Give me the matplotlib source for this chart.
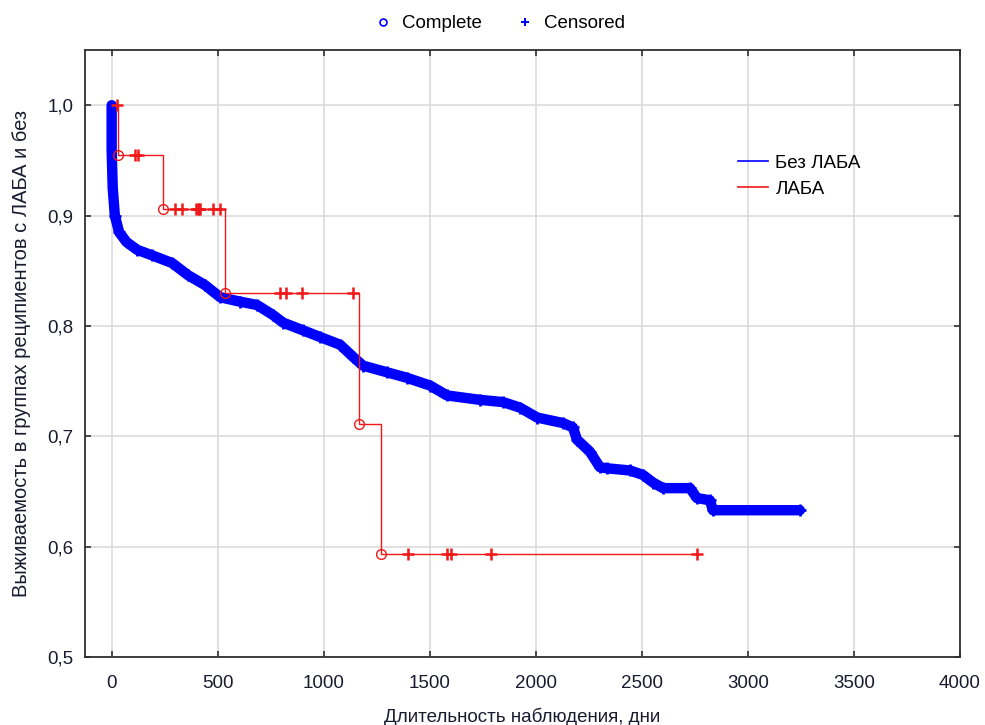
import numpy as np
import matplotlib
matplotlib.use('Agg')
import matplotlib.pyplot as plt
from matplotlib.lines import Line2D
from matplotlib.ticker import FuncFormatter

plt.rcParams['font.family'] = ['Liberation Sans', 'DejaVu Sans']

# Без ЛАБА (blue) - survival
blue_t = [0, 0, 5, 15, 35, 70, 120, 190, 285, 360, 440, 512, 605, 685, 760, 808,
          902, 982, 1077, 1138, 1185, 1298, 1392, 1501, 1581, 1737, 1845, 1925,
          2006, 2128, 2175, 2194, 2255, 2302, 2335, 2444, 2505, 2553, 2600, 2727,
          2760, 2821, 2835, 3245]
blue_s = [1.0, 0.96, 0.925, 0.90, 0.885, 0.876, 0.869, 0.864, 0.857, 0.846, 0.837,
          0.826, 0.822, 0.819, 0.810, 0.803, 0.796, 0.790, 0.783, 0.772, 0.764,
          0.758, 0.753, 0.746, 0.737, 0.733, 0.731, 0.726, 0.717, 0.712, 0.708,
          0.697, 0.686, 0.672, 0.671, 0.669, 0.665, 0.658, 0.653, 0.653, 0.644,
          0.642, 0.633, 0.633]

# ЛАБА (red) - Kaplan-Meier steps
red_event_t = [0, 30, 243, 535, 1167, 1272]
red_event_s = [1.0, 0.955, 0.906, 0.830, 0.711, 0.593]
red_end_t = 2760
red_cens_t = [25, 110, 125, 299, 332, 400, 405, 410, 415, 477, 510,
              794, 822, 897, 1138, 1398, 1581, 1600, 1789, 2760]

blue = '#0000ff'
red = '#f01818'
txt = '#1a1a30'


def km_value(t):
    idx = np.searchsorted(red_event_t, t, side='right') - 1
    return red_event_s[idx]


fig = plt.figure(figsize=(9.85, 7.25), dpi=100)
ax = fig.add_axes([0.0858, 0.0938, 0.8888, 0.8372])

# blue curve: dense band of markers
ax.plot(blue_t, blue_s, color=blue, lw=7.5, solid_joinstyle='round',
        solid_capstyle='round', zorder=2)
ax.plot(blue_t[3:], blue_s[3:], ls='none', marker='+', ms=9, mew=2,
        color=blue, zorder=2)

# red curve
red_t = red_event_t + [red_end_t]
red_s = red_event_s + [red_event_s[-1]]
ax.plot(red_t, red_s, drawstyle='steps-post', color=red, lw=1.0, zorder=3)
ax.plot(red_event_t[1:], red_event_s[1:], ls='none', marker='o', ms=7,
        mfc='none', mec=red, mew=1.0, zorder=4)
ax.plot(red_cens_t, [km_value(t) for t in red_cens_t], ls='none', marker='+',
        ms=9, mew=1.8, color=red, zorder=4)

ax.set_xlim(-128, 4000)
ax.set_ylim(0.5, 1.05)
ax.set_xticks(np.arange(0, 4001, 500))
ax.set_yticks(np.arange(0.5, 1.01, 0.1))
ax.yaxis.set_major_formatter(FuncFormatter(lambda v, p: f'{v:.1f}'.replace('.', ',')))
ax.grid(True, color='#dcdcdc', lw=1.2, zorder=0)
ax.set_axisbelow(True)
ax.tick_params(direction='in', length=4, width=1.2, color='#303030',
               top=True, right=True, labelsize=13.5, labelcolor=txt)
ax.tick_params(axis='y', pad=8)
ax.tick_params(axis='x', pad=13)
for sp in ax.spines.values():
    sp.set_color('#303030')
    sp.set_linewidth(1.3)

ax.set_xlabel('Длительность наблюдения, дни', fontsize=13.5, color=txt, labelpad=11)
ax.set_ylabel('Выживаемость в группах реципиентов с ЛАБА и без', fontsize=14.5,
              color=txt, labelpad=12)

leg_handles = [Line2D([], [], color=blue, lw=1.2), Line2D([], [], color=red, lw=1.2)]
ax.legend(leg_handles, ['Без ЛАБА', 'ЛАБА'], loc='upper left',
          bbox_to_anchor=(0.727, 0.855), frameon=False, fontsize=13.5,
          handlelength=1.6, handletextpad=0.4, labelspacing=0.45)

top_handles = [Line2D([], [], ls='none', marker='o', ms=5, mfc='none', mec=blue, mew=1.2),
               Line2D([], [], ls='none', marker='P', ms=6, color=blue, mew=0)]
fig.legend(top_handles, ['Complete', 'Censored'], loc='center', ncol=2,
           bbox_to_anchor=(0.507, 0.967), frameon=False, fontsize=13.5,
           handlelength=1.0, columnspacing=1.8, handletextpad=0.5)

fig.savefig('out.png', dpi=100)
